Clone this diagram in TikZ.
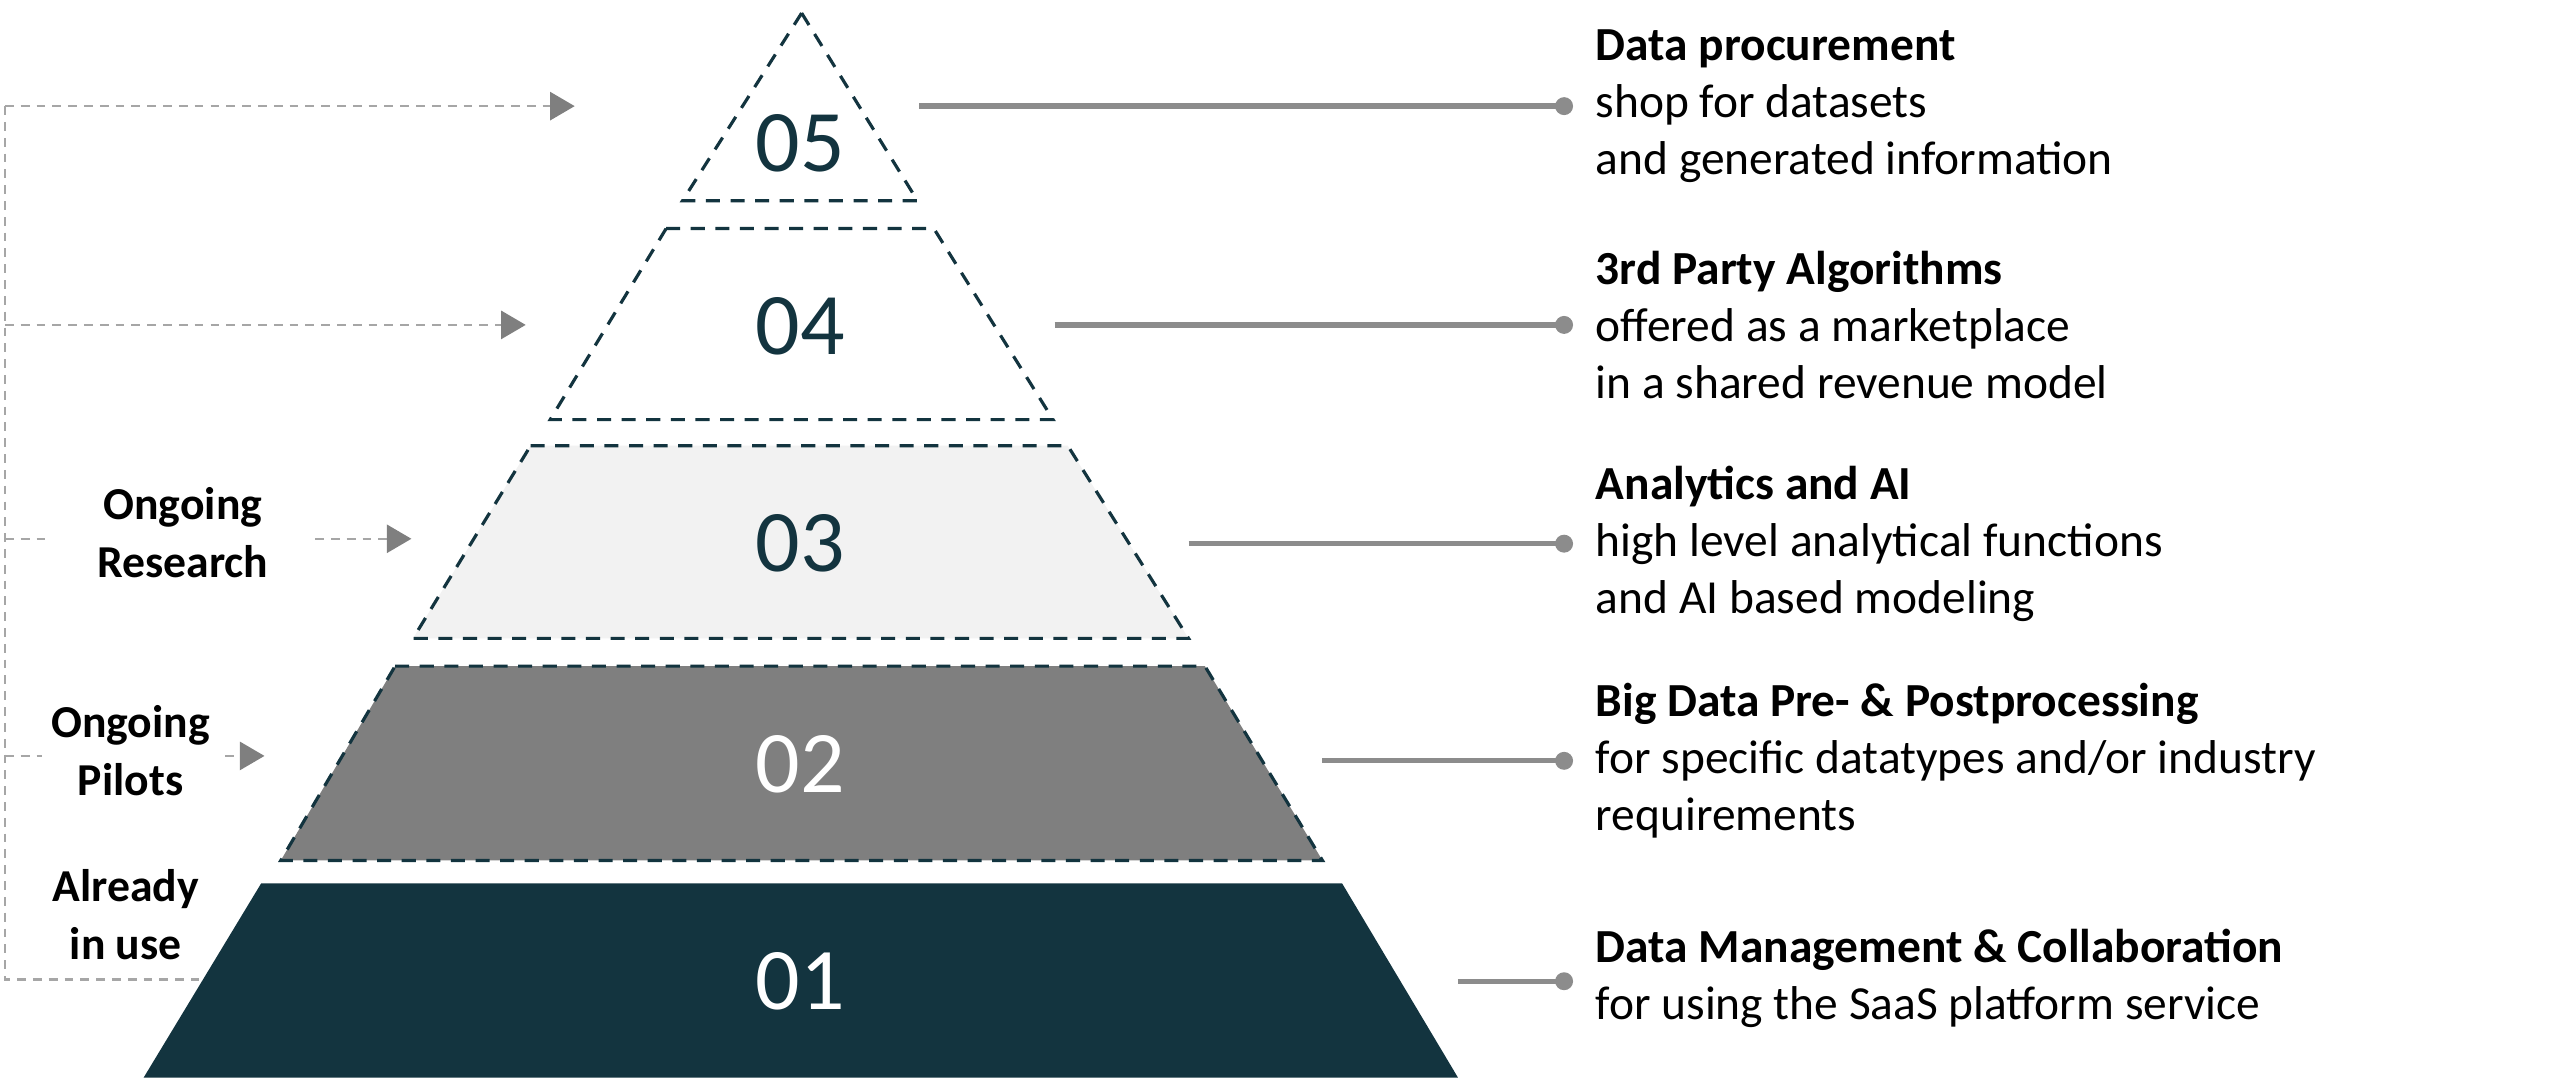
\documentclass[tikz,border=0pt]{standalone}
\usepackage{fontspec}
\setmainfont{Carlito}
\usetikzlibrary{arrows.meta}
\definecolor{teal}{HTML}{13343F}
\definecolor{midgray}{HTML}{7F7F7F}
\definecolor{lightgray}{HTML}{F2F2F2}
\definecolor{linegray}{HTML}{8C8C8C}
\tikzset{
	level/.style={draw=teal, dashed, line width=0.9pt, dash pattern=on 4pt off 3pt},
	num/.style={font=\fontsize{25}{30}\selectfont, text=teal},
	lead/.style={draw=linegray, line width=1.5pt},
	desc/.style={anchor=west, align=left, font=\fontsize{13.5}{16.2}\selectfont, inner sep=0pt},
	side/.style={align=center, font=\bfseries\fontsize{13}{16.5}\selectfont},
	bracket/.style={draw=gray!70, dashed, line width=0.7pt, dash pattern=on 2.5pt off 2pt},
	stage/.style={bracket, -{Triangle[length=7pt,width=8pt,fill=midgray]}, arrows={[color=midgray]}}
}
\begin{document}
\begin{tikzpicture}[x=0.01633cm, y=-0.01633cm]
	\useasboundingbox (0,0) rectangle (1568,663);

	% pyramid levels
	\draw[level] (491,8) -- (562,123) -- (418,123) -- cycle;
	\draw[level] (408,140) -- (572,140) -- (645,257) -- (337,257) -- cycle;
	\draw[level, fill=lightgray] (325,273) -- (654,273) -- (728,391) -- (253,391) -- cycle;
	\draw[level, fill=midgray] (242,408) -- (738,408) -- (810,527) -- (172,527) -- cycle;
	\fill[teal] (160,541) -- (822,541) -- (893,660) -- (88,660) -- cycle;

	\node[num] (n5) at (490,88) {05};
	\node[num] (n4) at (490,200) {04};
	\node[num] (n3) at (490,333) {03};
	\node[num, text=white] (n2) at (490,468) {02};
	\node[num, text=white] (n1) at (490,601) {01};

	% leaders and descriptions
	\coordinate (s5) at (563,65);
	\coordinate (s4) at (646,199);
	\coordinate (s3) at (728,333);
	\coordinate (s2) at (810,466);
	\coordinate (s1) at (893,601);
	\coordinate (d5) at (958,65);
	\coordinate (d4) at (958,199);
	\coordinate (d3) at (958,333);
	\coordinate (d2) at (958,466);
	\coordinate (d1) at (958,601);
	\foreach \i in {1,...,5}{
		\draw[lead] (s\i) -- (d\i);
		\fill[linegray] (d\i) circle (5.5);
	}

	\node[desc] (t5) at (977,65) {\textbf{Data procurement}\\shop for datasets\\and generated information};
	\node[desc] (t4) at (977,199) {\textbf{3rd Party Algorithms}\\offered as a marketplace\\in a shared revenue model};
	\node[desc] (t3) at (977,333) {\textbf{Analytics and AI}\\high level analytical functions\\and AI based modeling};
	\node[desc] (t2) at (977,466) {\textbf{Big Data Pre- \& Postprocessing}\\for specific datatypes and/or industry\\requirements};
	\node[desc] (t1) at (977,599) {\textbf{Data Management \& Collaboration}\\for using the SaaS platform service};

	% stages on the left
	\node[side] (research) at (112,326) {Ongoing\\Research};
	\node[side] (pilots) at (80,460) {Ongoing\\Pilots};
	\node[side] (inuse) at (77,560) {Already\\in use};

	\coordinate (b5) at (3,65);
	\coordinate (b4) at (3,199);
	\coordinate (b3) at (3,330);
	\coordinate (b2) at (3,463);
	\coordinate (b1) at (3,600);
	\draw[bracket] (b5) -- (b1) -- (122,600);
	\draw[stage] (b5) -- (352,65);
	\draw[stage] (b4) -- (322,199);
	\draw[bracket] (b3) -- (32,330);
	\draw[stage] (193,330) -- (252,330);
	\draw[bracket] (b2) -- (26,463);
	\draw[stage] (138,463) -- (162,463);
\end{tikzpicture}
\end{document}
